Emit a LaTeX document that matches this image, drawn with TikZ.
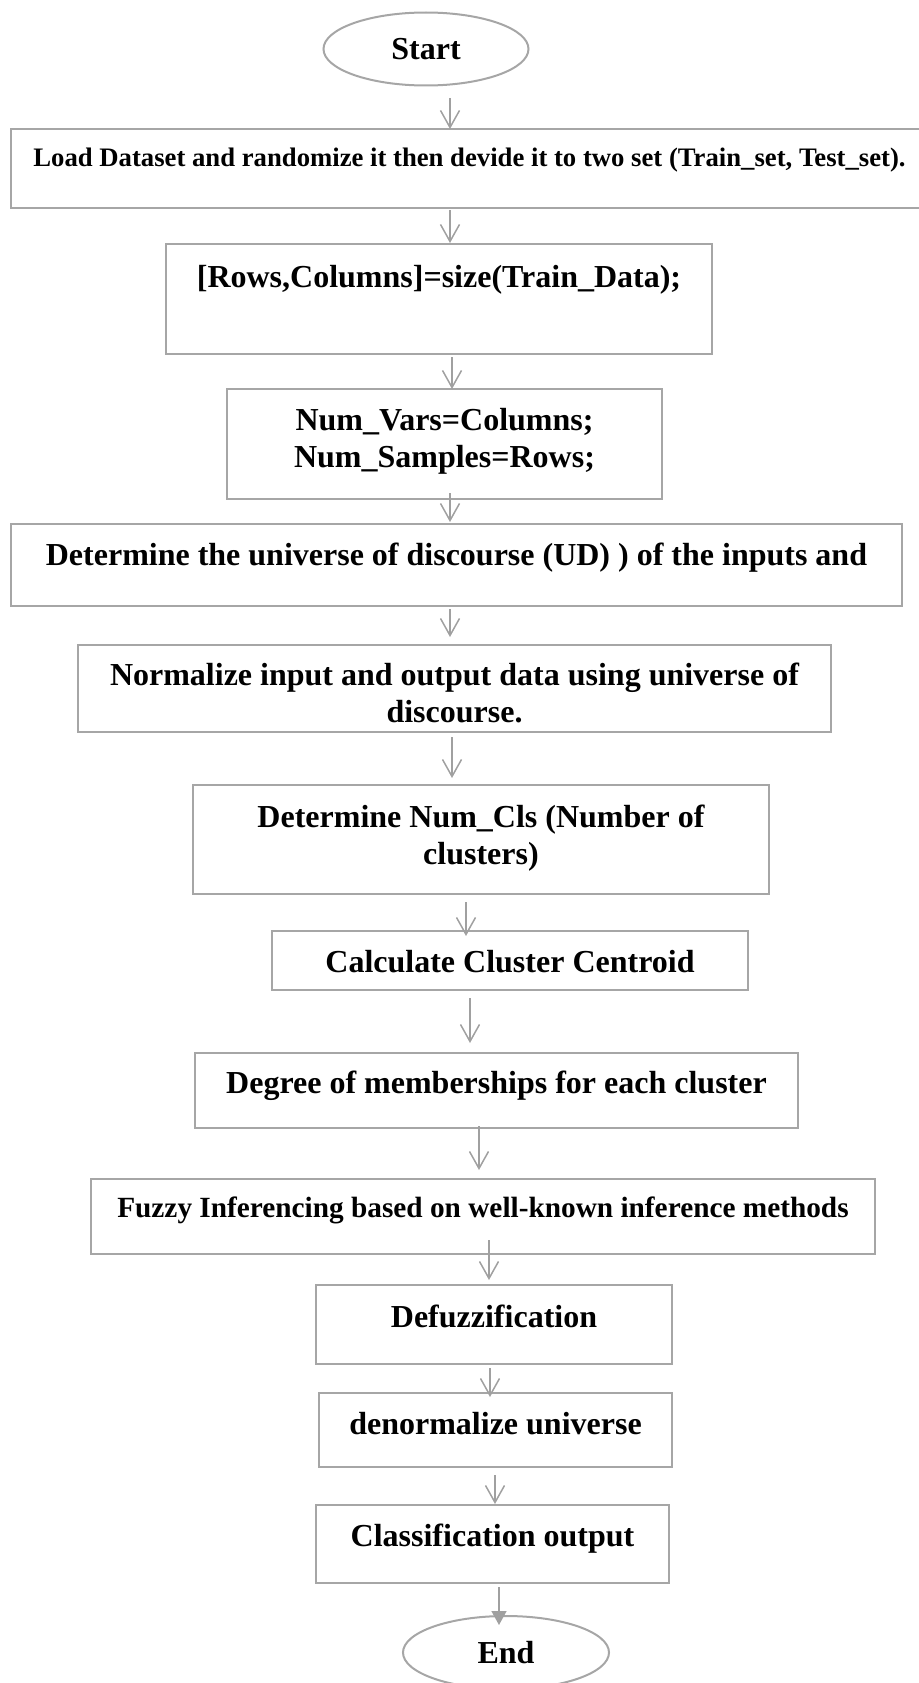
\documentclass[tikz,border=0pt]{standalone}
\usepackage{fontspec}
\setmainfont{Liberation Serif}
\usepackage{tikz}
\usetikzlibrary{arrows.meta, positioning, shapes.geometric}
\definecolor{fgray}{RGB}{166,166,166}
\definecolor{fline}{RGB}{160,160,160}

\begin{document}
\begin{tikzpicture}[
  font=\bfseries\fontsize{32}{37}\selectfont,
  >={Straight Barb[length=17pt, width=19pt]},
  term/.style={ellipse, draw=fgray, line width=2pt, minimum width=205pt, minimum height=73pt,
               inner sep=0pt, outer sep=0pt},
  stepbox/.style={rectangle, draw=fgray, line width=2pt, inner sep=0pt, outer sep=0pt,
                  align=flush center, text height=41.5pt},
  flow/.style={->, line width=1.5pt, fline},
  lastflow/.style={-{Triangle[length=14pt, width=15pt]}, line width=1.5pt, fline}
]
\useasboundingbox (0,0) rectangle (918pt,-1683pt);

% ---- Start ----
\node[term] (start) at (426pt,-49pt) {Start};

% ---- Steps ----
\node[stepbox, below=43.5pt of start, xshift=43.5pt, text width=917pt, text height=37pt, text depth=42pt,
      font=\bfseries\fontsize{26.7}{31}\selectfont] (load)
  {Load Dataset and randomize it then devide it to two set (Train\_set, Test\_set).};

\node[stepbox, below=36pt of load, xshift=-30.5pt, text width=546pt, text height=43.5pt, text depth=66.5pt] (rows)
  {[Rows,Columns]=size(Train\_Data);};

\node[stepbox, below=35pt of rows, xshift=5.5pt, text width=435pt, text depth=68.5pt] (vars)
  {Num\_Vars=Columns;\\ Num\_Samples=Rows;};

\node[stepbox, below=25pt of vars, xshift=12pt, text width=891pt, text depth=40.5pt] (ud)
  {Determine the universe of discourse (UD) ) of the inputs and};

\node[stepbox, below=39pt of ud, xshift=-2pt, text width=753pt, text height=40.5pt, text depth=46.5pt] (norm)
  {Normalize input and output data using universe of\\ discourse.};

\node[stepbox, below=53pt of norm, xshift=26.5pt, text width=576pt, text height=42.5pt, text depth=66.5pt] (ncls)
  {Determine Num\_Cls (Number of\\ clusters)};

\node[stepbox, below=37pt of ncls, xshift=29pt, text width=476pt, text depth=17.5pt] (cent)
  {Calculate Cluster Centroid};

\node[stepbox, below=63pt of cent, xshift=-13.5pt, text width=603pt, text height=40.5pt, text depth=34.5pt] (memb)
  {Degree of memberships for each cluster};

\node[stepbox, below=51pt of memb, xshift=-13.5pt, text width=784pt, text height=38.7pt, text depth=36.3pt,
      font=\bfseries\fontsize{29.3}{34}\selectfont] (infer)
  {Fuzzy Inferencing based on well-known inference methods};

\node[stepbox, below=31pt of infer, xshift=11pt, text width=356pt, text height=42.5pt, text depth=36.5pt] (defuz)
  {Defuzzification};

\node[stepbox, below=29pt of defuz, xshift=1.5pt, text width=353pt, text depth=32.5pt] (denorm)
  {denormalize universe};

\node[stepbox, below=38pt of denorm, xshift=-3pt, text width=353pt, text depth=36.5pt] (class)
  {Classification output};

% ---- End ----
\node[term, minimum width=206pt, below=33pt of class, xshift=13.5pt] (stop) {End};

% ---- Connectors ----
\draw[flow] ([xshift=24pt, yshift=-12.5pt]start.south) -- ([xshift=-19.5pt]load.north);
\draw[flow] ([xshift=-19.5pt, yshift=-2pt]load.south) -- ([xshift=11pt, yshift=1pt]rows.north);
\draw[flow] ([xshift=13pt, yshift=-3pt]rows.south) -- ([xshift=7.5pt]vars.north);
\draw[flow] ([xshift=5.5pt, yshift=6pt]vars.south) -- ([xshift=-6.5pt, yshift=2pt]ud.north);
\draw[flow] ([xshift=-6.5pt, yshift=-3pt]ud.south) -- ([xshift=-4.5pt, yshift=8pt]norm.north);
\draw[flow] ([xshift=-2.5pt, yshift=-5pt]norm.south) -- ([xshift=-29pt, yshift=7pt]ncls.north);
\draw[flow] ([xshift=-15pt, yshift=-8pt]ncls.south) -- ([xshift=-44pt, yshift=-5pt]cent.north);
\draw[flow] ([xshift=-40pt, yshift=-8pt]cent.south) -- ([xshift=-26.5pt, yshift=10pt]memb.north);
\draw[flow] ([xshift=-17.5pt, yshift=2pt]memb.south) -- ([xshift=-4pt, yshift=9pt]infer.north);
\draw[flow] ([xshift=6pt, yshift=14pt]infer.south) -- ([xshift=-5pt, yshift=5pt]defuz.north);
\draw[flow] ([xshift=-4pt, yshift=-4pt]defuz.south) -- ([xshift=-5.5pt, yshift=-4pt]denorm.north);
\draw[flow] ([xshift=-0.5pt, yshift=-8pt]denorm.south) -- ([xshift=2.5pt, yshift=1pt]class.north);
\draw[lastflow] ([xshift=6.5pt, yshift=-4pt]class.south) -- ([xshift=-7pt, yshift=-9pt]stop.north);

\end{tikzpicture}
\end{document}
